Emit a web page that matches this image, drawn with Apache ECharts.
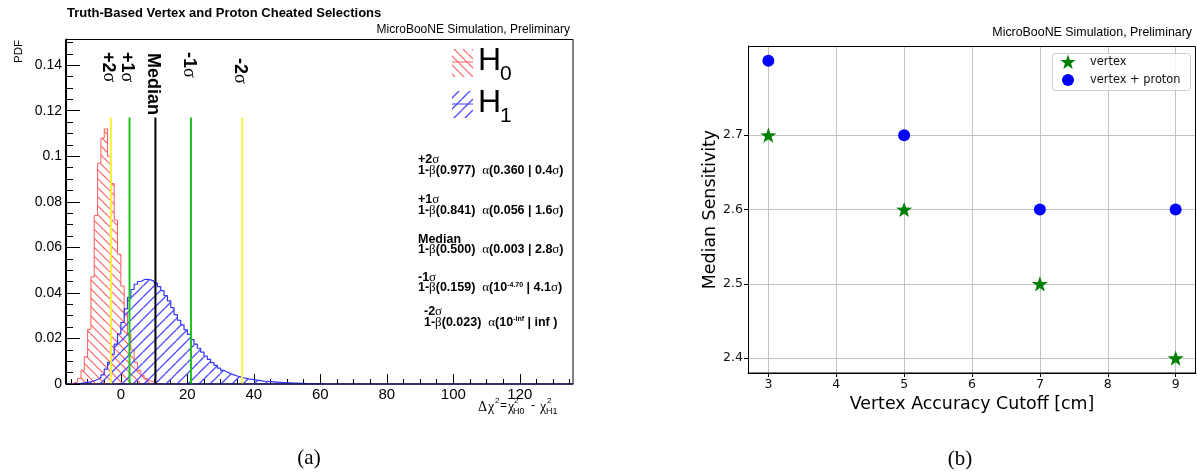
<!DOCTYPE html>
<html>
<head>
<meta charset="utf-8">
<script src="https://cdn.jsdelivr.net/npm/echarts@6/dist/echarts.min.js"></script>
<style>
html, body { margin: 0; padding: 0; background: #fff; }
#main { width: 1197px; height: 473px; }
</style>
</head>
<body>
<div id="main"></div>
<script>
// ---------- Panel (a): Δχ² distributions under H0 and H1 (1-unit bins) ----------
const binWidth = 1;
const h0Start = -15;
const h0Values = [
  0.0005, 0.001, 0.0025, 0.006, 0.012, 0.024, 0.047, 0.074, 0.097, 0.108,
  0.112, 0.1, 0.088, 0.072, 0.057, 0.043, 0.031, 0.022, 0.015, 0.0095,
  0.006, 0.0038, 0.0024, 0.0014, 0.0008, 0.0004
];
const h1Start = -14;
const h1Values = [
  0.0002, 0.0003, 0.0005, 0.0007, 0.001, 0.0014, 0.002, 0.0028, 0.004, 0.0065,
  0.0095, 0.013, 0.0175, 0.022, 0.027, 0.033, 0.038, 0.0415, 0.0438, 0.045,
  0.0458, 0.046, 0.0457, 0.0452, 0.0443, 0.0428, 0.041, 0.0388, 0.0365, 0.0335,
  0.0305, 0.028, 0.026, 0.0238, 0.0218, 0.0195, 0.0175, 0.0157, 0.014, 0.0123,
  0.0108, 0.0094, 0.0082, 0.007, 0.006, 0.0052, 0.0046, 0.004, 0.0035, 0.0031,
  0.0027, 0.0024, 0.0021, 0.0019, 0.0017, 0.0015, 0.0013, 0.0012, 0.001, 0.0009,
  0.0008, 0.0007, 0.0006, 0.0005, 0.0005, 0.0004, 0.0004, 0.0003, 0.0003, 0.0002,
  0.0002, 0.0002, 0.0001, 0.0001, 0.0001
];

// H1 quantile lines
const quantileNames = ['+2σ', '+1σ', 'Median', '-1σ', '-2σ'];
const quantilePos = [-3.0, 2.6, 10.4, 21.1, 36.5];
const quantileTop = 0.117;

// Power / significance summary
const statPower = ['0.977', '0.841', '0.500', '0.159', '0.023'];
const statAlpha = ['0.360', '0.056', '0.003', '10^-4.70', '10^-inf'];
const statSigma = ['0.4σ', '1.6σ', '2.8σ', '4.1σ', 'inf '];

const dchiTicks = [0, 20, 40, 60, 80, 100, 120];
const pdfTicks = [0, 0.02, 0.04, 0.06, 0.08, 0.1, 0.12, 0.14];

// ---------- Panel (b): median sensitivity vs. vertex cutoff ----------
const cutoffs = [3, 5, 7, 9];
const vertexSens = [2.7, 2.6, 2.5, 2.4];
const vertexProtonSens = [2.8, 2.7, 2.6, 2.6];
const cutoffTicks = [3, 4, 5, 6, 7, 8, 9];
const sensTicks = [2.4, 2.5, 2.6, 2.7];
const sensSeriesNames = ['vertex', 'vertex + proton'];

// ---------- helpers ----------
const SANS = 'Liberation Sans, Arial, Helvetica, sans-serif';
const MPL = 'DejaVu Sans, sans-serif';
const SERIF = 'Liberation Serif, Times New Roman, serif';

// repeating diagonal hatch tile
function makeHatch(color, dir, s, lw) {
  const c = document.createElement('canvas');
  c.width = s; c.height = s;
  const g = c.getContext('2d');
  g.strokeStyle = color;
  g.lineWidth = lw;
  g.beginPath();
  for (let k = -1; k <= 1; k++) {
    if (dir === 'back') { g.moveTo(k * s, 0); g.lineTo(k * s + s, s); }
    else { g.moveTo(k * s, s); g.lineTo(k * s + s, 0); }
  }
  g.stroke();
  return c;
}
const hatchRed = makeHatch('rgb(255,95,95)', 'back', 9, 1.2);
const hatchBlue = makeHatch('rgb(80,80,255)', 'fwd', 11, 1.4);

function histPoints(start, values) {
  const pts = [[start, 0]];
  values.forEach((v, i) => pts.push([start + i * binWidth, v]));
  pts.push([start + values.length * binWidth, 0]);
  return pts;
}

const xMin = -16.5, xMax = 136;
const xMinorTicks = [];
for (let t = -15; t <= 135; t += 5) xMinorTicks.push(t);

// five-pointed star outline in a 100x100 box
const STAR_PTS = [[50, 0], [61.76, 33.82], [97.55, 34.55], [69.02, 56.18], [79.39, 90.45],
                  [50, 70], [20.61, 90.45], [30.98, 56.18], [2.45, 34.55], [38.24, 33.82]];
const STAR_PATH = 'path://M' + STAR_PTS.map(p => p.join(',')).join(' L') + ' Z';
const quantileColors = ['#f4f43a', '#1fc41f', '#000000', '#1fc41f', '#f4f43a'];

const chart = echarts.init(document.getElementById('main'), null, { renderer: 'canvas' });

const series = [
  {
    type: 'line', name: 'H0', xAxisIndex: 0, yAxisIndex: 0,
    data: histPoints(h0Start, h0Values), step: 'end', symbol: 'none', silent: true,
    lineStyle: { color: '#ff5c5c', width: 1 },
    areaStyle: { color: { image: hatchRed, repeat: 'repeat' }, opacity: 1 },
    z: 2
  },
  {
    type: 'line', name: 'H1', xAxisIndex: 0, yAxisIndex: 0,
    data: histPoints(h1Start, h1Values), step: 'end', symbol: 'none', silent: true,
    lineStyle: { color: '#3535ff', width: 1.2 },
    areaStyle: { color: { image: hatchBlue, repeat: 'repeat' }, opacity: 1 },
    z: 3
  }
];
quantilePos.forEach((p, i) => {
  series.push({
    type: 'line', name: quantileNames[i], xAxisIndex: 0, yAxisIndex: 0,
    data: [[p, 0], [p, quantileTop]], symbol: 'none', silent: true,
    lineStyle: { color: quantileColors[i], width: 2 }, z: 5
  });
});
series.push({
  type: 'scatter', name: sensSeriesNames[0], xAxisIndex: 2, yAxisIndex: 1,
  data: cutoffs.map((c, i) => [c, vertexSens[i]]),
  symbol: STAR_PATH, symbolSize: 16, symbolKeepAspect: true,
  itemStyle: { color: '#008000', opacity: 1 }, z: 6
});
series.push({
  type: 'scatter', name: sensSeriesNames[1], xAxisIndex: 2, yAxisIndex: 1,
  data: cutoffs.map((c, i) => [c, vertexProtonSens[i]]),
  symbol: 'circle', symbolSize: 12,
  itemStyle: { color: '#0000ff', opacity: 1 }, z: 6
});

const option = {
  animation: false,
  backgroundColor: '#ffffff',
  grid: [
    { left: 66, top: 39, width: 507, height: 345 },
    { left: 748, top: 46, width: 448, height: 327 }
  ],
  xAxis: [
    {
      type: 'value', gridIndex: 0, position: 'bottom', min: xMin, max: xMax,
      axisLine: { show: true, onZero: false, lineStyle: { color: '#3434c4', width: 1.5 } },
      axisTick: { inside: true, length: 10, customValues: dchiTicks, lineStyle: { color: '#000' } },
      axisLabel: { customValues: dchiTicks, fontSize: 15, fontFamily: SANS, color: '#000', margin: 3 },
      splitLine: { show: false }
    },
    {
      type: 'value', gridIndex: 0, position: 'bottom', min: xMin, max: xMax,
      axisLine: { show: false, onZero: false },
      axisTick: { inside: true, length: 5, customValues: xMinorTicks, lineStyle: { color: '#000' } },
      axisLabel: { show: false },
      splitLine: { show: false }
    },
    {
      type: 'value', gridIndex: 1, position: 'bottom', min: 2.7, max: 9.3,
      name: 'Vertex Accuracy Cutoff [cm]', nameLocation: 'middle', nameGap: 18,
      nameTextStyle: { fontFamily: MPL, fontSize: 17.4, color: '#000' },
      axisLine: { show: true, onZero: false, lineStyle: { color: '#000', width: 1 } },
      axisTick: { inside: false, length: 4, customValues: cutoffTicks, lineStyle: { color: '#000' } },
      axisLabel: { customValues: cutoffTicks, fontSize: 12.5, fontFamily: MPL, color: '#111', margin: 5 },
      splitLine: { show: true, lineStyle: { color: '#c2c2c2', width: 1 } }
    }
  ],
  yAxis: [
    {
      type: 'value', gridIndex: 0, min: 0, max: 0.1515, interval: 0.02,
      axisLine: { show: true, onZero: false, lineStyle: { color: '#000', width: 1 } },
      axisTick: { inside: true, length: 14, lineStyle: { color: '#000' } },
      minorTick: { show: true, splitNumber: 4, length: 7, lineStyle: { color: '#000' } },
      axisLabel: {
        fontSize: 14, fontFamily: SANS, color: '#000', margin: 4, showMaxLabel: false,
        formatter: v => (pdfTicks.some(t => Math.abs(t - v) < 1e-9) ? String(+v.toFixed(2)) : '')
      },
      splitLine: { show: false }
    },
    {
      type: 'value', gridIndex: 1, min: 2.38, max: 2.82,
      name: 'Median Sensitivity', nameLocation: 'middle', nameGap: 28,
      nameTextStyle: { fontFamily: MPL, fontSize: 17.4, color: '#000' },
      axisLine: { show: true, onZero: false, lineStyle: { color: '#000', width: 1 } },
      axisTick: { inside: false, length: 4, customValues: sensTicks, lineStyle: { color: '#000' } },
      axisLabel: { customValues: sensTicks, fontSize: 12.5, fontFamily: MPL, color: '#111', margin: 5,
                   formatter: v => v.toFixed(1) },
      splitLine: { show: true, lineStyle: { color: '#c2c2c2', width: 1 } }
    }
  ],
  series: series
};
chart.setOption(option);

// ---------- annotations ----------
const px = v => chart.convertToPixel({ xAxisIndex: 0 }, v);
const graphics = [];

// frames
graphics.push({ type: 'rect', silent: true, z: 50,
  shape: { x: 65.5, y: 39.5, width: 507.5, height: 344.5 },
  style: { fill: 'none', stroke: '#000', lineWidth: 1 } });
graphics.push({ type: 'rect', silent: true, z: 50,
  shape: { x: 748.5, y: 46.5, width: 447, height: 326.5 },
  style: { fill: 'none', stroke: '#000', lineWidth: 1 } });

// titles
graphics.push({ type: 'text', x: 67, y: 13, silent: true,
  style: { text: 'Truth-Based Vertex and Proton Cheated Selections', font: 'bold 13px ' + SANS,
           fill: '#000', align: 'left', verticalAlign: 'middle' } });
graphics.push({ type: 'text', x: 570, y: 30, silent: true,
  style: { text: 'MicroBooNE Simulation, Preliminary', font: '12px ' + SANS,
           fill: '#000', align: 'right', verticalAlign: 'middle' } });
graphics.push({ type: 'text', x: 1192, y: 33, silent: true,
  style: { text: 'MicroBooNE Simulation, Preliminary', font: '12.4px ' + SANS,
           fill: '#000', align: 'right', verticalAlign: 'middle' } });

// y title of panel (a)
graphics.push({ type: 'text', x: 19, y: 40, rotation: Math.PI / 2, silent: true,
  style: { text: 'PDF', font: '11.5px ' + SANS, fill: '#000', align: 'right', verticalAlign: 'middle' } });

// x title of panel (a): Δχ² = χ²_H0 - χ²_H1
const dchiParts = [
  { t: 'Δ', x: 478, f: '14px ' + SERIF, dy: 0 },
  { t: 'χ', x: 488, f: '14px ' + SERIF, dy: 0 },
  { t: '2', x: 495, f: '8px ' + SANS, dy: -6 },
  { t: '=', x: 500, f: '12px ' + SANS, dy: -1 },
  { t: 'χ', x: 508, f: '14px ' + SERIF, dy: 0 },
  { t: '2', x: 514, f: '8px ' + SANS, dy: -6 },
  { t: 'H0', x: 513, f: '9px ' + SANS, dy: 5 },
  { t: '-', x: 531, f: '12px ' + SANS, dy: -1 },
  { t: 'χ', x: 540, f: '14px ' + SERIF, dy: 0 },
  { t: '2', x: 547, f: '8px ' + SANS, dy: -6 },
  { t: 'H1', x: 546, f: '9px ' + SANS, dy: 5 }
];
dchiParts.forEach(p => graphics.push({ type: 'text', x: p.x, y: 407 + p.dy, silent: true,
  style: { text: p.t, font: p.f, fill: '#000', align: 'left', verticalAlign: 'middle' } }));

// rotated quantile labels
const labelTops = [52, 52, 53, 52, 58];
quantileNames.forEach((name, i) => {
  const rich = name === 'Median' ? '{b|Median}' : '{b|' + name.slice(0, -1) + '}{g|σ}';
  graphics.push({ type: 'text', x: px(quantilePos[i]) - 2.5, y: labelTops[i], rotation: -Math.PI / 2, silent: true,
    style: { text: rich, align: 'left', verticalAlign: 'middle',
      rich: {
        b: { font: 'bold 18px ' + SANS, fill: '#000' },
        g: { font: '18px ' + SERIF, fill: '#000' }
      } } });
});

// legend of panel (a)
const legendRows = [
  { y: 49, h: 28, lineY: 62, pat: hatchRed, col: '#ff5f5f', sub: '0', textY: 61 },
  { y: 91, h: 27, lineY: 104, pat: hatchBlue, col: '#4040ff', sub: '1', textY: 103 }
];
legendRows.forEach(r => {
  graphics.push({ type: 'rect', silent: true, shape: { x: 452, y: r.y, width: 21, height: r.h },
    style: { fill: { image: r.pat, repeat: 'repeat' }, stroke: null } });
  graphics.push({ type: 'line', silent: true, shape: { x1: 452, y1: r.lineY, x2: 473, y2: r.lineY },
    style: { stroke: r.col, lineWidth: 1 } });
  graphics.push({ type: 'text', x: 478, y: r.textY, silent: true,
    style: { text: 'H', font: '32px ' + SANS, fill: '#000', align: 'left', verticalAlign: 'middle' } });
  graphics.push({ type: 'text', x: 500, y: r.textY + 13, silent: true,
    style: { text: r.sub, font: '21px ' + SANS, fill: '#000', align: 'left', verticalAlign: 'middle' } });
});

// power / significance block
const headY = [160, 200, 239.5, 277.5, 312];
const rowX = [418, 418, 418, 418, 424];
const statRich = {
  b: { font: 'bold 12.5px ' + SANS, fill: '#000' },
  g: { font: '13px ' + SERIF, fill: '#000' },
  sup: { font: 'bold 7px ' + SANS, fill: '#000', verticalAlign: 'top' }
};
quantileNames.forEach((name, i) => {
  const head = name === 'Median' ? '{b|Median}' : '{b|' + name.slice(0, -1) + '}{g|σ}';
  let alpha = statAlpha[i];
  alpha = alpha.indexOf('^') >= 0 ? '{b|' + alpha.split('^')[0] + '}{sup|' + alpha.split('^')[1] + '}'
                                  : '{b|' + alpha + '}';
  let sig = statSigma[i];
  sig = sig.endsWith('σ') ? '{b|' + sig.slice(0, -1) + '}{g|σ}' : '{b|' + sig + '}';
  const line = '{b|1-}{g|β}{b|(' + statPower[i] + ')  }{g|α}{b|(}' + alpha + '{b| | }' + sig + '{b|)}';
  graphics.push({ type: 'text', x: rowX[i], y: headY[i], silent: true,
    style: { text: head, rich: statRich, align: 'left', verticalAlign: 'middle' } });
  graphics.push({ type: 'text', x: rowX[i], y: headY[i] + 10.5, silent: true,
    style: { text: line, rich: statRich, align: 'left', verticalAlign: 'middle' } });
});

// legend of panel (b)
graphics.push({ type: 'rect', silent: true, z: 60,
  shape: { x: 1052.5, y: 53.5, width: 138, height: 37, r: 3 },
  style: { fill: 'rgba(255,255,255,0.85)', stroke: '#cccccc', lineWidth: 1 } });
graphics.push({ type: 'polygon', silent: true, z: 61,
  shape: { points: STAR_PTS.map(p => [1068 - 8 + p[0] * 0.16, 62 - 7.5 + p[1] * 0.16]) },
  style: { fill: '#008000' } });
graphics.push({ type: 'circle', silent: true, z: 61,
  shape: { cx: 1068, cy: 80, r: 6 }, style: { fill: '#0000ff' } });
sensSeriesNames.forEach((name, i) => graphics.push({ type: 'text', x: 1090, y: 62 + 18 * i, silent: true, z: 61,
  style: { text: name, font: '11.4px ' + MPL, fill: '#111', align: 'left', verticalAlign: 'middle' } }));

// panel captions
graphics.push({ type: 'text', x: 309, y: 458, silent: true,
  style: { text: '(a)', font: '21px ' + SERIF, fill: '#000', align: 'center', verticalAlign: 'middle' } });
graphics.push({ type: 'text', x: 960, y: 459, silent: true,
  style: { text: '(b)', font: '21px ' + SERIF, fill: '#000', align: 'center', verticalAlign: 'middle' } });

chart.setOption({ graphic: graphics });
</script>
</body>
</html>
